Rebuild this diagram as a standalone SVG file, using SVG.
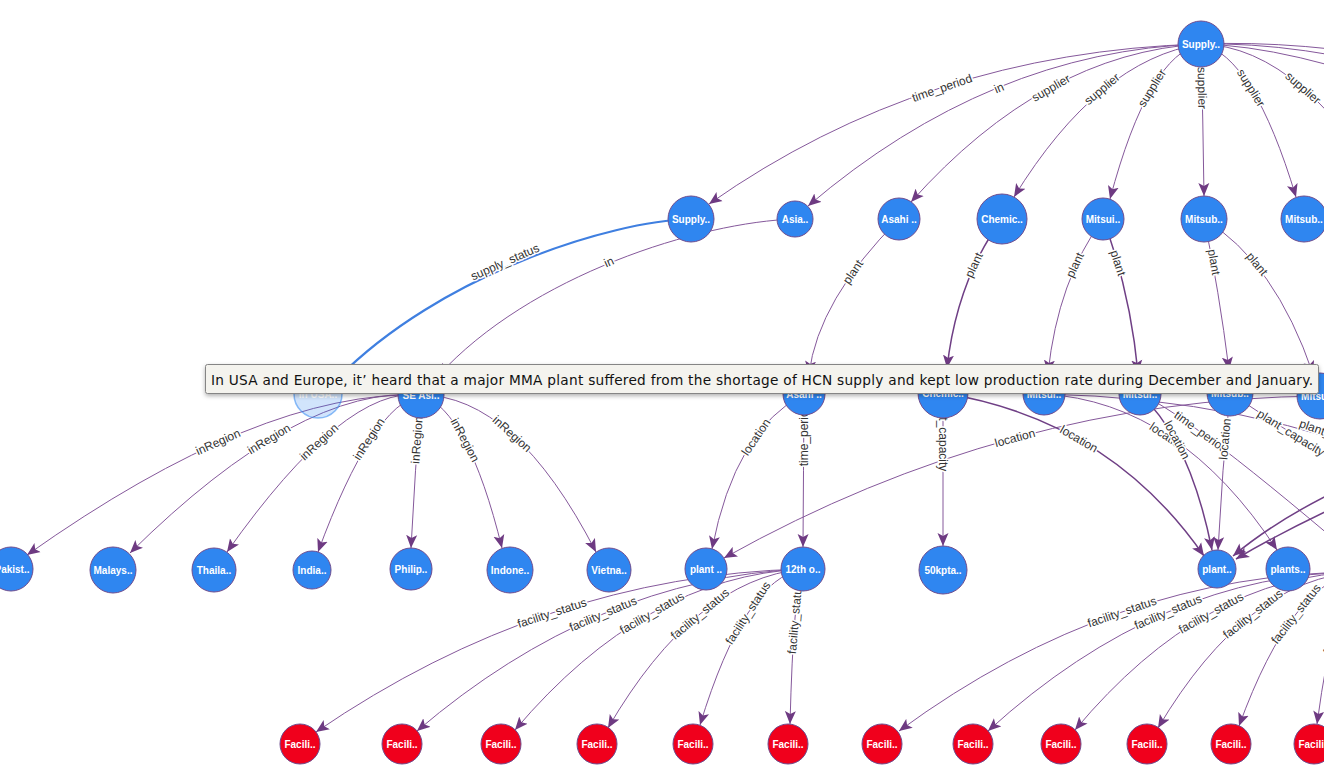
<svg xmlns="http://www.w3.org/2000/svg" width="1324" height="780" viewBox="0 0 1324 780">
<style>
.e{fill:none;stroke:#85589b;stroke-width:1}
.t{stroke:#6f3f85;stroke-width:1.5}
.hl{fill:none;stroke:#3f7fe0;stroke-width:2.2}
.el{font-family:'Liberation Sans',Arial,sans-serif;font-size:12px;fill:#333;text-anchor:middle;stroke:#fff;stroke-width:3;paint-order:stroke;stroke-linejoin:round}
.n circle{stroke:#6e4d8f;stroke-width:1}
.b circle{fill:#2f86f0}
.r circle{fill:#f0001c}
.n text{font-family:'Liberation Sans',Arial,sans-serif;font-size:10px;font-weight:bold;fill:#fff;text-anchor:middle}
.tip{font-family:'DejaVu Sans',Verdana,sans-serif;font-size:13.7px;fill:#111}
</style>
<defs>
<marker id="arr" viewBox="0 -6 14 12" refX="13" refY="0" markerWidth="14" markerHeight="12" markerUnits="userSpaceOnUse" orient="auto"><path d="M0,-5.5 L13,0 L0,5.5 L3,0 Z" fill="#6e3a82"/></marker>
<marker id="arrb" viewBox="0 -6 14 12" refX="13" refY="0" markerWidth="14" markerHeight="12" markerUnits="userSpaceOnUse" orient="auto"><path d="M0,-5.5 L13,0 L0,5.5 L3,0 Z" fill="#3f7fe0"/></marker>
<filter id="sh" x="-5%" y="-30%" width="110%" height="190%"><feDropShadow dx="0" dy="2" stdDeviation="2" flood-color="#000" flood-opacity="0.3"/></filter>
</defs>
<g id="connectors">
<path class="e" d="M1201,44 Q925,52 709,204" marker-end="url(#arr)"/>
<path class="e" d="M1201,44 Q989.5,51 808,206" marker-end="url(#arr)"/>
<path class="e" d="M1201,44 Q1044,53 911,202" marker-end="url(#arr)"/>
<path class="e" d="M1201,44 Q1098.5,59.5 1014,197" marker-end="url(#arr)"/>
<path class="e" d="M1201,44 Q1148.5,54.5 1110,199" marker-end="url(#arr)"/>
<path class="e" d="M1201,44 Q1203,120 1204,196" marker-end="url(#arr)"/>
<path class="e" d="M1201,44 Q1253.5,55.5 1296,197" marker-end="url(#arr)"/>
<path class="e" d="M1201,44 Q1305.5,46.5 1400,215"/>
<path class="e" d="M1201,44 Q1300,40 1420,62"/>
<path class="e" d="M1201,44 Q1300,42 1420,75"/>
<path class="e" d="M1201,44 Q1290,46 1420,95"/>
<path class="hl" d="M691,219 C610,221 440,275 338,378" marker-end="url(#arrb)"/>
<path class="e" d="M795,219 C700,222 530,275 438,376" marker-end="url(#arr)"/>
<path class="e" d="M899,219 Q818,300 809,374" marker-end="url(#arr)"/>
<path class="e t" d="M1002,219 Q957,280 947,368" marker-end="url(#arr)"/>
<path class="e" d="M1103,219 Q1058,280 1048,373" marker-end="url(#arr)"/>
<path class="e t" d="M1103,219 Q1130,290 1138,373" marker-end="url(#arr)"/>
<path class="e" d="M1204,219 Q1219,290 1229,370" marker-end="url(#arr)"/>
<path class="e" d="M1204,219 Q1275,262 1313,374" marker-end="url(#arr)"/>
<path class="e" d="M421,395 Q260,390 27,555" marker-end="url(#arr)"/>
<path class="e" d="M421,395 Q300,385 130,553" marker-end="url(#arr)"/>
<path class="e" d="M421,395 Q345,385 227,552" marker-end="url(#arr)"/>
<path class="e" d="M421,395 Q372,405 318,552" marker-end="url(#arr)"/>
<path class="e" d="M421,395 Q415,470 411,548" marker-end="url(#arr)"/>
<path class="e" d="M421,395 Q468,410 502,548" marker-end="url(#arr)"/>
<path class="e" d="M421,395 Q515,395 596,552" marker-end="url(#arr)"/>
<path class="e" d="M804,394 Q735,430 712,549" marker-end="url(#arr)"/>
<path class="e" d="M804,394 Q803.5,470 803,547" marker-end="url(#arr)"/>
<path class="e" d="M943,393 Q943,470 943,546" marker-end="url(#arr)"/>
<path class="e" d="M1320,396 Q1008,399 724,558" marker-end="url(#arr)"/>
<path class="e t" d="M943,393 Q1110,420 1204,556" marker-end="url(#arr)"/>
<path class="e" d="M1044,394 Q1180,402 1277,550" marker-end="url(#arr)"/>
<path class="e t" d="M1140,394 Q1190,440 1212,550" marker-end="url(#arr)"/>
<path class="e" d="M1230,393 Q1222,470 1218,550" marker-end="url(#arr)"/>
<path class="e" d="M1140,394 Q1190,415 1370,570"/>
<path class="e" d="M1230,393 Q1300,440 1400,500"/>
<path class="e" d="M1044,394 Q1250,398 1420,470"/>
<path class="e t" d="M1420,455 Q1300,500 1233,556" marker-end="url(#arr)"/>
<path class="e t" d="M1420,470 Q1310,515 1236,559" marker-end="url(#arr)"/>
<path class="e" d="M803,569 Q544.5,575.5 316,732" marker-end="url(#arr)"/>
<path class="e" d="M803,569 Q596,578 417,731" marker-end="url(#arr)"/>
<path class="e" d="M803,569 Q645,576.5 515,730" marker-end="url(#arr)"/>
<path class="e" d="M803,569 Q694.5,579.5 608,728" marker-end="url(#arr)"/>
<path class="e" d="M803,569 Q744.5,579 700,725" marker-end="url(#arr)"/>
<path class="e" d="M803,569 Q793.5,589.5 790,724" marker-end="url(#arr)"/>
<path class="e" d="M1360,572 Q1114.5,572.5 899,731" marker-end="url(#arr)"/>
<path class="e" d="M1360,572 Q1162,572.5 988,731" marker-end="url(#arr)"/>
<path class="e" d="M1360,572 Q1204.5,575 1075,730" marker-end="url(#arr)"/>
<path class="e" d="M1360,572 Q1247,578 1158,728" marker-end="url(#arr)"/>
<path class="e" d="M1360,572 Q1292.5,579 1239,726" marker-end="url(#arr)"/>
<path class="e" d="M1360,572 Q1335,590 1317,724" marker-end="url(#arr)"/>
<text class="el" dy="4" transform="translate(942,88) rotate(-19)">time_period</text>
<text class="el" dy="4" transform="translate(999,88) rotate(-23)">in</text>
<text class="el" dy="4" transform="translate(1051,88) rotate(-30)">supplier</text>
<text class="el" dy="4" transform="translate(1102,89) rotate(-40)">supplier</text>
<text class="el" dy="4" transform="translate(1152,88) rotate(-58)">supplier</text>
<text class="el" dy="4" transform="translate(1202,88) rotate(89)">supplier</text>
<text class="el" dy="4" transform="translate(1251,88) rotate(58)">supplier</text>
<text class="el" dy="4" transform="translate(1303,88) rotate(41)">supplier</text>
<text class="el" dy="4" transform="translate(505,262) rotate(-24)">supply_status</text>
<text class="el" dy="4" transform="translate(609,262) rotate(-24)">in</text>
<text class="el" dy="4" transform="translate(853,272) rotate(-56)">plant</text>
<text class="el" dy="4" transform="translate(974,265) rotate(-65)">plant</text>
<text class="el" dy="4" transform="translate(1075,265) rotate(-65)">plant</text>
<text class="el" dy="4" transform="translate(1118,263) rotate(72)">plant</text>
<text class="el" dy="4" transform="translate(1214,262) rotate(80)">plant</text>
<text class="el" dy="4" transform="translate(1257,264) rotate(51)">plant</text>
<text class="el" dy="4" transform="translate(218,442) rotate(-24)">inRegion</text>
<text class="el" dy="4" transform="translate(269,439) rotate(-31)">inRegion</text>
<text class="el" dy="4" transform="translate(319,442) rotate(-43)">inRegion</text>
<text class="el" dy="4" transform="translate(369,439) rotate(-57)">inRegion</text>
<text class="el" dy="4" transform="translate(417,440) rotate(-86)">inRegion</text>
<text class="el" dy="4" transform="translate(465,440) rotate(62)">inRegion</text>
<text class="el" dy="4" transform="translate(512,434) rotate(42)">inRegion</text>
<text class="el" dy="4" transform="translate(756,437) rotate(-56)">location</text>
<text class="el" dy="4" transform="translate(804,435) rotate(-90)">time_period</text>
<text class="el" dy="4" transform="translate(943,433) rotate(90)">plant_capacity</text>
<text class="el" dy="4" transform="translate(1015,438) rotate(-15)">location</text>
<text class="el" dy="4" transform="translate(1079,439) rotate(30)">location</text>
<text class="el" dy="4" transform="translate(1168,437) rotate(34)">location</text>
<text class="el" dy="4" transform="translate(1177,440) rotate(62)">location</text>
<text class="el" dy="4" transform="translate(1201,432) rotate(36)">time_period</text>
<text class="el" dy="4" transform="translate(1225,439) rotate(-85)">location</text>
<text class="el" dy="4" transform="translate(1291,433) rotate(32)">plant_capacity</text>
<text class="el" dy="4" transform="translate(1336,436) rotate(20)">plant_capacity</text>
<text class="el" dy="4" transform="translate(552,613) rotate(-18)">facility_status</text>
<text class="el" dy="4" transform="translate(603,614) rotate(-23)">facility_status</text>
<text class="el" dy="4" transform="translate(652,613) rotate(-30)">facility_status</text>
<text class="el" dy="4" transform="translate(700,614) rotate(-40)">facility_status</text>
<text class="el" dy="4" transform="translate(748,613) rotate(-57)">facility_status</text>
<text class="el" dy="4" transform="translate(795,618) rotate(-85)">facility_status</text>
<text class="el" dy="4" transform="translate(1122,612) rotate(-19)">facility_status</text>
<text class="el" dy="4" transform="translate(1168,612) rotate(-23)">facility_status</text>
<text class="el" dy="4" transform="translate(1211,613) rotate(-29)">facility_status</text>
<text class="el" dy="4" transform="translate(1253,614) rotate(-38)">facility_status</text>
<text class="el" dy="4" transform="translate(1296,614) rotate(-52)">facility_status</text>
<text class="el" dy="4" transform="translate(1337,619) rotate(-74)">facility_status</text>
</g>
<g id="nodes">
<g id="n-root" class="n b"><circle cx="1201" cy="44" r="23"/><text x="1201" y="47.6">Supply..</text></g>
<g id="n-supply2" class="n b"><circle cx="691" cy="219" r="23"/><text x="691" y="222.6">Supply..</text></g>
<g id="n-asia" class="n b"><circle cx="795" cy="219" r="18"/><text x="795" y="222.6">Asia..</text></g>
<g id="n-asahi2" class="n b"><circle cx="899" cy="219" r="21"/><text x="899" y="222.6">Asahi ..</text></g>
<g id="n-chemic2" class="n b"><circle cx="1002" cy="219" r="25"/><text x="1002" y="222.6">Chemic..</text></g>
<g id="n-mitsui2" class="n b"><circle cx="1103" cy="219" r="21"/><text x="1103" y="222.6">Mitsui..</text></g>
<g id="n-mitsub2" class="n b"><circle cx="1204" cy="219" r="23"/><text x="1204" y="222.6">Mitsub..</text></g>
<g id="n-mitsub2b" class="n b"><circle cx="1304" cy="219" r="23"/><text x="1304" y="222.6">Mitsub..</text></g>
<g id="n-inusa" class="n"><circle cx="318" cy="394" r="24" fill="#2f86f0" fill-opacity="0.22" stroke="#2f86f0" stroke-opacity="0.55" style="stroke:#2f86f0;stroke-width:1.5"/><text x="318" y="397.6">In USA..</text></g>
<g id="n-seasia" class="n b"><circle cx="421" cy="395" r="23"/><text x="421" y="398.6">SE Asi..</text></g>
<g id="n-asahi3" class="n b"><circle cx="804" cy="394" r="21"/><text x="804" y="397.6">Asahi ..</text></g>
<g id="n-chemic3" class="n b"><circle cx="943" cy="393" r="25"/><text x="943" y="396.6">Chemic..</text></g>
<g id="n-mitsui3" class="n b"><circle cx="1044" cy="394" r="21"/><text x="1044" y="397.6">Mitsui..</text></g>
<g id="n-mitsui3b" class="n b"><circle cx="1140" cy="394" r="21"/><text x="1140" y="397.6">Mitsui..</text></g>
<g id="n-mitsub3" class="n b"><circle cx="1230" cy="393" r="23"/><text x="1230" y="396.6">Mitsub..</text></g>
<g id="n-mitsu3" class="n b"><circle cx="1320" cy="396" r="23"/><text x="1320" y="399.6">Mitsub..</text></g>
<g id="n-pakistan" class="n b"><circle cx="11" cy="569" r="22"/><text x="12" y="572.6">Pakist..</text></g>
<g id="n-malaysia" class="n b"><circle cx="113" cy="570" r="23"/><text x="113" y="573.6">Malays..</text></g>
<g id="n-thailand" class="n b"><circle cx="214" cy="570" r="22"/><text x="214" y="573.6">Thaila..</text></g>
<g id="n-india" class="n b"><circle cx="312" cy="570" r="19"/><text x="312" y="573.6">India..</text></g>
<g id="n-philip" class="n b"><circle cx="411" cy="569" r="21"/><text x="411" y="572.6">Philip..</text></g>
<g id="n-indone" class="n b"><circle cx="510" cy="570" r="23"/><text x="510" y="573.6">Indone..</text></g>
<g id="n-vietnam" class="n b"><circle cx="609" cy="570" r="22"/><text x="609" y="573.6">Vietna..</text></g>
<g id="n-plant1" class="n b"><circle cx="706" cy="569" r="21"/><text x="706" y="572.6">plant ..</text></g>
<g id="n-12th" class="n b"><circle cx="803" cy="569" r="22"/><text x="803" y="572.6">12th o..</text></g>
<g id="n-50k" class="n b"><circle cx="943" cy="570" r="24"/><text x="943" y="573.6">50kpta..</text></g>
<g id="n-plant2" class="n b"><circle cx="1217" cy="569" r="19"/><text x="1217" y="572.6">plant..</text></g>
<g id="n-plants" class="n b"><circle cx="1288" cy="569" r="22"/><text x="1288" y="572.6">plants..</text></g>
<g id="n-f1" class="n r"><circle cx="300" cy="744" r="20"/><text x="300" y="747.6">Facili..</text></g>
<g id="n-f2" class="n r"><circle cx="402" cy="744" r="20"/><text x="402" y="747.6">Facili..</text></g>
<g id="n-f3" class="n r"><circle cx="501" cy="744" r="20"/><text x="501" y="747.6">Facili..</text></g>
<g id="n-f4" class="n r"><circle cx="597" cy="744" r="20"/><text x="597" y="747.6">Facili..</text></g>
<g id="n-f5" class="n r"><circle cx="693" cy="744" r="20"/><text x="693" y="747.6">Facili..</text></g>
<g id="n-f6" class="n r"><circle cx="788" cy="744" r="20"/><text x="788" y="747.6">Facili..</text></g>
<g id="n-f7" class="n r"><circle cx="882" cy="744" r="20"/><text x="882" y="747.6">Facili..</text></g>
<g id="n-f8" class="n r"><circle cx="973" cy="744" r="20"/><text x="973" y="747.6">Facili..</text></g>
<g id="n-f9" class="n r"><circle cx="1061" cy="744" r="20"/><text x="1061" y="747.6">Facili..</text></g>
<g id="n-f10" class="n r"><circle cx="1147" cy="744" r="20"/><text x="1147" y="747.6">Facili..</text></g>
<g id="n-f11" class="n r"><circle cx="1231" cy="744" r="20"/><text x="1231" y="747.6">Facili..</text></g>
<g id="n-f12" class="n r"><circle cx="1314" cy="744" r="20"/><text x="1314" y="747.6">Facili..</text></g>
</g>
<g id="tooltip">
<rect x="205.5" y="364.5" width="1113" height="29" rx="2" fill="#f4f3ee" stroke="#858585" stroke-width="1" filter="url(#sh)"/>
<text class="tip" x="211" y="384.5" textLength="1102" lengthAdjust="spacing">In USA and Europe, it’ heard that a major MMA plant suffered from the shortage of HCN supply and kept low production rate during December and January.</text>
</g>
</svg>
